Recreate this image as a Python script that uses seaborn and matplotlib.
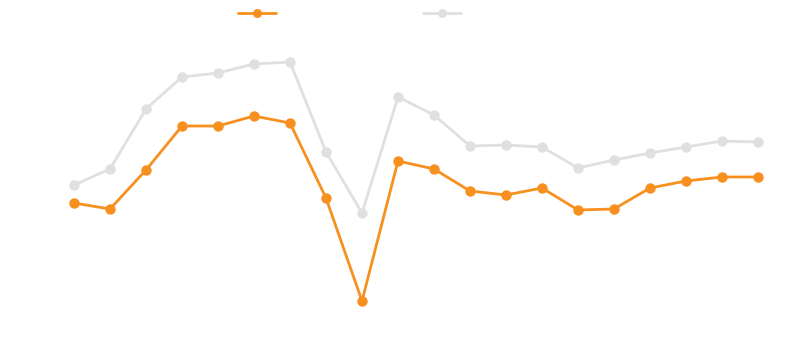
import matplotlib
matplotlib.use("Agg")
import matplotlib.pyplot as plt
import seaborn as sns
import pandas as pd
import numpy as np
from matplotlib.lines import Line2D

sns.set_theme(style="white")

# Twenty consecutive periods, two series
periods = list(range(20))
series_a = [13.7, 13.1, 17.0, 21.4, 21.4, 22.4, 21.7, 14.2, 3.9, 17.9,
            17.1, 14.9, 14.5, 15.2, 13.0, 13.1, 15.2, 15.9, 16.3, 16.3]
series_b = [15.5, 17.1, 23.1, 26.3, 26.7, 27.6, 27.8, 18.8, 12.7, 24.3,
            22.5, 19.4, 19.5, 19.3, 17.2, 18.0, 18.7, 19.3, 19.9, 19.8]
names = ["A", "B"]
colors = {"A": "#F7901E", "B": "#E0E0E0"}

df = pd.DataFrame({
    "period": periods * 2,
    "value": series_a + series_b,
    "series": [names[0]] * len(periods) + [names[1]] * len(periods),
})

fig = plt.figure(figsize=(8.0, 3.39), dpi=100)
ax = fig.add_axes([0, 0, 1, 1])

sns.lineplot(data=df, x="period", y="value", hue="series",
             hue_order=names[::-1], palette=colors, marker="o",
             markersize=7.5, markeredgewidth=0, linewidth=2.0,
             legend=False, ax=ax, zorder=3)

ax.set_xlim(-74 / 36, (800 - 74) / 36)
ax.set_ylim(0.1, 34.0)
ax.axis("off")

handles = [Line2D([], [], color=colors[n], marker="o", markersize=6.5,
                  markeredgewidth=0, linewidth=2.0) for n in names]
ax.legend(handles, ["", ""], ncol=2, frameon=False, loc="center",
          bbox_to_anchor=(349.5 / 800, 1 - 13.5 / 339),
          handlelength=2.5, handletextpad=0.0, columnspacing=9.65,
          borderpad=0, borderaxespad=0)

fig.savefig("out.png", dpi=100)
